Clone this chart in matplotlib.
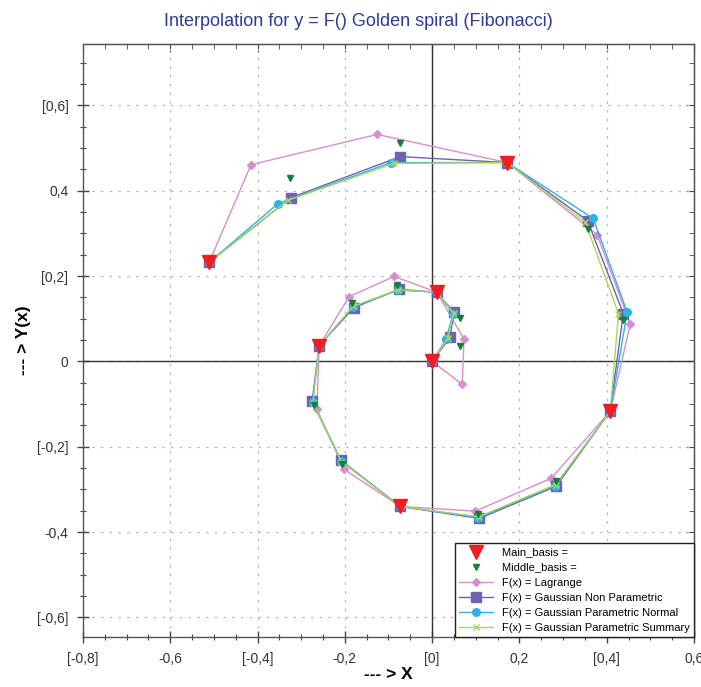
import numpy as np
from matplotlib import pyplot as plt
from matplotlib.ticker import MultipleLocator

plt.rcParams['font.family'] = ['Liberation Sans', 'DejaVu Sans']

RED = '#f21c24'
DKGREEN = '#13803a'
PINK = '#d68fcf'
PURPLE = '#6d62b4'
BLUE = '#2fb2e6'
YGREEN = '#a9d65a'

# main basis points (spiral order)
main_x = [0.0, 0.011, -0.259, -0.073, 0.408, 0.172, -0.511]
main_y = [0.0, 0.162, 0.037, -0.340, -0.117, 0.466, 0.232]

# two middle points between every pair of main points
middle_x = [0.064, 0.064, -0.080, -0.183, -0.271, -0.206, 0.106, 0.284, 0.438, 0.358, -0.073, -0.326]
middle_y = [0.035, 0.101, 0.178, 0.136, -0.103, -0.241, -0.358, -0.281, 0.096, 0.311, 0.513, 0.431]

lagr_x = [0.069, 0.073, -0.087, -0.190, -0.264, -0.202, 0.099, 0.273, 0.454, 0.378, -0.126, -0.415]
lagr_y = [-0.054, 0.052, 0.199, 0.152, -0.112, -0.253, -0.351, -0.274, 0.087, 0.297, 0.532, 0.461]

gnp_x = [0.041, 0.050, -0.076, -0.179, -0.275, -0.209, 0.108, 0.284, 0.438, 0.356, -0.073, -0.323]
gnp_y = [0.056, 0.115, 0.169, 0.126, -0.094, -0.232, -0.368, -0.293, 0.112, 0.330, 0.480, 0.384]

gpn_x = [0.032, 0.048, -0.078, -0.181, -0.274, -0.208, 0.106, 0.282, 0.447, 0.369, -0.094, -0.353]
gpn_y = [0.052, 0.112, 0.167, 0.128, -0.096, -0.234, -0.366, -0.291, 0.115, 0.335, 0.466, 0.370]

gps_x = [0.036, 0.049, -0.079, -0.181, -0.273, -0.208, 0.107, 0.283, 0.427, 0.351, -0.088, -0.330]
gps_y = [0.054, 0.113, 0.168, 0.129, -0.097, -0.235, -0.364, -0.289, 0.112, 0.326, 0.464, 0.378]

x_ticks = [-0.8, -0.6, -0.4, -0.2, 0.0, 0.2, 0.4, 0.6]
x_labels = ['[-0,8]', '-0,6', '[-0,4]', '-0,2', '[0]', '0,2', '[0,4]', '0,6']
y_ticks = [-0.6, -0.4, -0.2, 0.0, 0.2, 0.4, 0.6]
y_labels = ['[-0,6]', '-0,4', '[-0,2]', '0', '[0,2]', '0,4', '[0,6]']


def with_main(ix, iy):
    """interleave main basis points with the interpolated pairs"""
    xs, ys = [main_x[0]], [main_y[0]]
    for k in range(len(main_x) - 1):
        xs += [ix[2*k], ix[2*k+1], main_x[k+1]]
        ys += [iy[2*k], iy[2*k+1], main_y[k+1]]
    return xs, ys


fig = plt.figure(figsize=(7.01, 6.87), dpi=100)
ax = fig.add_axes([0.1184, 0.0728, 0.8716, 0.8632])

ax.axhline(0, color='#333333', lw=1.0, zorder=2)
ax.axvline(0, color='#333333', lw=1.0, zorder=2)

lx, ly = with_main(lagr_x, lagr_y)
h_lag, = ax.plot(lx, ly, '-', color=PINK, lw=1.0, marker='D', markersize=4.5, label='F(x) = Lagrange', zorder=3)
gx, gy = with_main(gnp_x, gnp_y)
h_gnp, = ax.plot(gx, gy, '-', color=PURPLE, lw=1.0, marker='s', markersize=6.5, label='F(x) = Gaussian Non Parametric', zorder=4)
bx, by = with_main(gpn_x, gpn_y)
h_gpn, = ax.plot(bx, by, '-', color=BLUE, lw=1.0, marker='o', markersize=5.5, label='F(x) = Gaussian Parametric Normal', zorder=4)
sx, sy = with_main(gps_x, gps_y)
h_gps, = ax.plot(sx, sy, '-', color=YGREEN, lw=1.0, marker='x', markersize=5, label='F(x) = Gaussian Parametric Summary', zorder=4)
h_mid, = ax.plot(middle_x, middle_y, 'v', color=DKGREEN, markersize=4, linestyle='none', label='Middle_basis =', zorder=6)
h_main, = ax.plot(main_x, main_y, 'v', color=RED, markersize=9.5, linestyle='none', label='Main_basis =', zorder=7)

ax.set_xlim(-0.8, 0.6)
ax.set_ylim(-0.646, 0.744)
ax.set_xticks(x_ticks)
ax.set_xticklabels(x_labels)
ax.set_yticks(y_ticks)
ax.set_yticklabels(y_labels)
ax.xaxis.set_minor_locator(MultipleLocator(0.05))
ax.yaxis.set_minor_locator(MultipleLocator(0.05))
ax.tick_params(which='major', direction='inout', length=9, width=1, color='#444444',
               labelsize=10, labelcolor='#333333', pad=6)
ax.tick_params(which='minor', direction='inout', length=5, width=0.8, color='#444444')
ax.grid(True, which='major', color='#b8b8b8', linestyle=(0, (2, 5)), lw=0.9)
for s in ax.spines.values():
    s.set_color('#555555')
    s.set_linewidth(1.0)

top = ax.secondary_xaxis('top')
top.set_xticks(x_ticks)
top.xaxis.set_minor_locator(MultipleLocator(0.05))
top.tick_params(which='major', direction='in', length=6, color='#444444', labeltop=False)
top.tick_params(which='minor', direction='in', length=3.5, color='#444444')
right = ax.secondary_yaxis('right')
right.set_yticks(y_ticks)
right.yaxis.set_minor_locator(MultipleLocator(0.05))
right.tick_params(which='major', direction='in', length=6, color='#444444', labelright=False)
right.tick_params(which='minor', direction='in', length=3.5, color='#444444')

ax.set_xlabel('--- > X', fontsize=12.5, fontweight='bold', labelpad=1)
ax.set_ylabel('--- > Y(x)', fontsize=12.5, fontweight='bold', labelpad=4)
fig.text(0.511, 0.968, 'Interpolation for y = F() Golden spiral (Fibonacci)', ha='center', va='center',
         fontsize=13, color='#2e3b94')

leg = ax.legend(handles=[h_main, h_mid, h_lag, h_gnp, h_gpn, h_gps], loc='lower right',
                bbox_to_anchor=(1.0, 0.0), borderaxespad=0, fontsize=8, handlelength=3.0,
                labelspacing=0.45, fancybox=False, framealpha=1, edgecolor='#222222', numpoints=1)
leg.get_frame().set_linewidth(1.0)
leg.set_zorder(10)

plt.savefig('out.png', dpi=100)
plt.close()
